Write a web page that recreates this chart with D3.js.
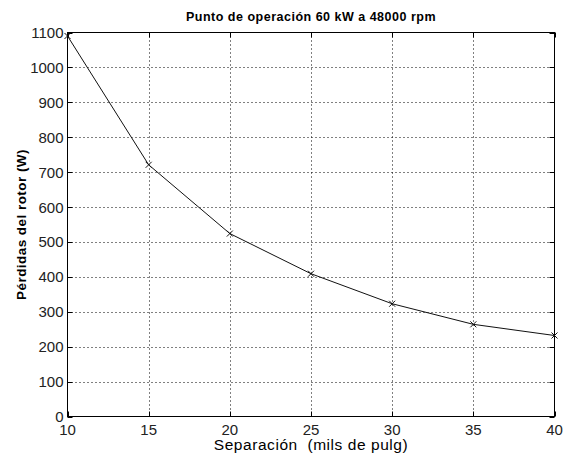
<!DOCTYPE html>
<html>
<head>
<meta charset="utf-8">
<script src="https://cdn.jsdelivr.net/npm/d3@7"></script>
<style>
  html, body { margin: 0; padding: 0; background: #fff; }
  svg { display: block; font-family: "Liberation Sans", Arial, sans-serif; }
  .pre { white-space: pre; }
</style>
</head>
<body>
<svg id="chart" width="564" height="456"></svg>
<script>
// Rotor losses versus air-gap separation
const separation = [10, 15, 20, 25, 30, 35, 40];
const losses = [1090, 721, 524, 409, 323, 264, 232];
const xTicks = [10, 15, 20, 25, 30, 35, 40];
const yTicks = [0, 100, 200, 300, 400, 500, 600, 700, 800, 900, 1000, 1100];

const titleText = "Punto de operación 60 kW a 48000 rpm";
const xLabelText = "Separación  (mils de pulg)";
const yLabelText = "Pérdidas del rotor (W)";

const svg = d3.select("#chart");
const m = { left: 67.5, right: 554.5, top: 32.5, bottom: 416.5 };

const x = d3.scaleLinear().domain([10, 40]).range([m.left, m.right]);
const y = d3.scaleLinear().domain([0, 1100]).range([m.bottom, m.top]);
const px = v => Math.round(v) + 0.5;

// dotted grid
const grid = svg.append("g").attr("stroke", "#000").attr("stroke-width", 1)
  .attr("stroke-dasharray", "1,3");
grid.selectAll(".gx").data(xTicks.slice(1, -1)).join("line")
  .attr("x1", d => px(x(d))).attr("x2", d => px(x(d)))
  .attr("y1", m.top).attr("y2", m.bottom);
grid.selectAll(".gy").data(yTicks.slice(1, -1)).join("line")
  .attr("y1", d => px(y(d))).attr("y2", d => px(y(d)))
  .attr("x1", m.left).attr("x2", m.right);

// box with inward ticks on all four sides
const tick = 5;
const ax = svg.append("g").attr("stroke", "#000").attr("stroke-width", 1);
ax.selectAll(".tb").data(xTicks).join("line")
  .attr("x1", d => px(x(d))).attr("x2", d => px(x(d)))
  .attr("y1", m.bottom).attr("y2", m.bottom - tick);
ax.selectAll(".tt").data(xTicks).join("line")
  .attr("x1", d => px(x(d))).attr("x2", d => px(x(d)))
  .attr("y1", m.top).attr("y2", m.top + tick);
ax.selectAll(".tl").data(yTicks).join("line")
  .attr("y1", d => px(y(d))).attr("y2", d => px(y(d)))
  .attr("x1", m.left).attr("x2", m.left + tick);
ax.selectAll(".tr").data(yTicks).join("line")
  .attr("y1", d => px(y(d))).attr("y2", d => px(y(d)))
  .attr("x1", m.right).attr("x2", m.right - tick);
ax.append("rect")
  .attr("x", m.left).attr("y", m.top)
  .attr("width", m.right - m.left).attr("height", m.bottom - m.top)
  .attr("fill", "none");

// tick labels
svg.append("g").selectAll("text").data(xTicks).join("text")
  .attr("x", d => x(d)).attr("y", m.bottom + 18)
  .attr("text-anchor", "middle").attr("font-size", 15).attr("fill", "#222")
  .text(d => d);
svg.append("g").selectAll("text").data(yTicks).join("text")
  .attr("x", m.left - 4).attr("y", d => y(d) + 5.5)
  .attr("text-anchor", "end").attr("font-size", 15).attr("fill", "#222")
  .text(d => d);

// data line with x markers
const pts = separation.map((s, i) => [s, losses[i]]);
svg.append("path").datum(pts)
  .attr("fill", "none").attr("stroke", "#111").attr("stroke-width", 1)
  .attr("d", d3.line().x(d => x(d[0])).y(d => y(d[1])));
const mk = 3;
svg.append("g").attr("stroke", "#111").attr("stroke-width", 1)
  .selectAll("path").data(pts).join("path")
  .attr("d", d => {
    const cx = x(d[0]), cy = y(d[1]);
    return `M${cx - mk},${cy - mk}L${cx + mk},${cy + mk}M${cx - mk},${cy + mk}L${cx + mk},${cy - mk}`;
  });

// titles
svg.append("text").attr("x", (m.left + m.right) / 2).attr("y", 20.5)
  .attr("text-anchor", "middle").attr("font-size", 12.5).attr("font-weight", "bold")
  .attr("letter-spacing", 0.5)
  .text(titleText);
svg.append("text").attr("class", "pre").attr("x", (m.left + m.right) / 2).attr("y", 450)
  .attr("text-anchor", "middle").attr("font-size", 15.5)
  .attr("letter-spacing", 0.55)
  .text(xLabelText);
svg.append("text")
  .attr("transform", `translate(26,${(m.top + m.bottom) / 2}) rotate(-90)`)
  .attr("text-anchor", "middle").attr("font-size", 13.5).attr("font-weight", "bold")
  .attr("letter-spacing", 0.45)
  .text(yLabelText);
</script>
</body>
</html>
